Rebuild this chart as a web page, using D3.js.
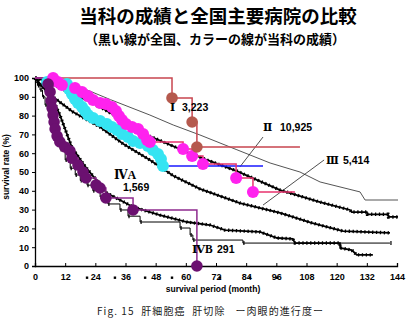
<!DOCTYPE html>
<html><head><meta charset="utf-8">
<script src="https://cdn.jsdelivr.net/npm/d3@7"></script>
<style>
html,body{margin:0;padding:0;background:#fff;}
svg{display:block;}
</style></head>
<body>
<script>
// ---------- data ----------
const xTicks = [0,12,24,36,48,60,72,84,96,108,120,132,144];
const yTicks = [0,10,20,30,40,50,60,70,80,90,100];
const axisDots = [20.7,31.8,43.8,54.5,73.6,85.5,96.3];

// national (black) curves: months / survival %
const natI_m = [0,6,17.9,30,45.7,55,65.6,80,93.5,105.4,113.4,129.3,131.3,144.4];
const natI_s = [100,99,95.2,88.5,80.3,75,69.7,62,54.8,50,44.7,39.4,35.1,35.1];

const natII_m = [0,4,12,24,35,45.7,60.5,68.4,80.3,97.5,113.4,125.3,126,132,132.2,140.4,140.6,144.4];
const natII_s = [100,98.5,93.5,86,77.5,69,60.6,56.4,50.5,40.4,34,29.8,28.7,28.7,27.5,27.5,26.1,26.1];

const natIII_m = [0,2,7.2,15,25.9,35,45.7,55,65.6,81.5,97.5,110,122.5,141.2];
const natIII_s = [100,96.3,89.9,82,73.9,65,56.4,48,41,33.5,28.2,23,18.6,17.6];

const natIVA_m = [0,2,6,10,14.7,19.9,28.6,39,49.7,60.5,69.6,75.6,89.5,96.3,102.6,103.4,121.3,121.4,126,128,134.4];
const natIVA_s = [100,97,92,80,63,53,38.8,31.4,27.1,23.4,21.8,19.1,18.1,14.9,14.4,12.2,12.2,9.6,8.5,5.9,5.9];

const natIVB_m = [0,1,2,3,4,6,8,10,12,14,16,18,20.7,23,25.9,29,33.8,37,41.8,57.7,61.7,62.8,82.7,141.2];
const natIVB_s = [100,96,93.6,90,85.6,77,69.7,62,56.4,52,48.4,45.5,43,40,36.7,33,29.8,26.5,23.4,20.2,16.5,13.8,12.2,12.2];

// local (colour) curves
const locI_m = [0,54.5,62.5,64.4,105.4];
const locI_s = [100,89.4,76.6,63.3,63.3];
const locI_dot_m = [54.5,62.5,64.4];
const locI_dot_s = [89.4,76.6,63.3];

const locII_m = [4.8,12.7,13.5,14.7,15.9,17.1,18.7,19.9,21.1,23.1,25.9,28.6,30.6,32.6,34.6,37,39,41.8,44.9,46.9,48.9,50.1,50.9];
const locII_s = [97.9,96.8,94.1,91.5,88.8,86.7,84.6,82.4,80.3,78.7,77.1,75.5,73.9,72.3,70.2,68.6,66.5,65.4,63.8,61.7,59.6,56.9,53.2];
const locII_end = 90.7;

const locIII_m = [7.2,9.1,10.7,15.9,18.7,21.1,23.1,25.9,28.2,30.6,32.2,33.4,34.6,36.2,38.6,41,43,44.6,45.7,58.9,62.5,66.8,80,86.7];
const locIII_s = [100,97.9,96.3,94.7,92.6,90.4,88.3,86.7,86.2,84.6,82.4,79.8,77.7,75.5,73.9,72.9,70.2,67,66,62.2,58.5,54.3,46.8,39.4];
const locIII_end = 103.4;

const locIV_m = [5.2,6,6.4,6.8,7.2,7.6,8,8.8,9.9,11.9,13.9,14.7,17.1,19.1,20.3,24.3,25.9,28.2,39,64.4];
const locIV_s = [96.8,92.6,87.8,84,80.3,76.6,72.9,69.1,66,63.3,61.2,57.4,53.7,50,46.8,43.1,41.5,36.2,29.8,0];

// ---------- chart ----------
const W = 408, H = 321;
const x = d3.scaleLinear().domain([0,144]).range([35,397]);
const y = d3.scaleLinear().domain([0,100]).range([266,78]);

const svg = d3.select("body").append("svg").attr("width",W).attr("height",H)
  .style("font-family","'Liberation Sans', Arial, sans-serif");

const zip = (m,s) => m.map((v,i)=>[v,s[i]]);
const lineLin = d3.line().x(d=>x(d[0])).y(d=>y(d[1]));
const lineStep = d3.line().x(d=>x(d[0])).y(d=>y(d[1])).curve(d3.curveStepAfter);

// titles
svg.append("text").attr("x",218).attr("y",23).attr("text-anchor","middle")
  .style("font-family","'Noto Sans CJK JP'").style("font-weight","bold").style("font-size","18.5px")
  .text("当科の成績と全国主要病院の比較");
svg.append("text").attr("x",215).attr("y",44).attr("text-anchor","middle")
  .style("font-family","'Noto Sans CJK JP'").style("font-weight","bold").style("font-size","13px")
  .text("（黒い線が全国、カラーの線が当科の成績）");

// axes
const gx = svg.append("g").attr("transform","translate(0,266)")
  .call(d3.axisBottom(x).tickValues(xTicks).tickSize(-3).tickPadding(8).tickFormat(d3.format("d")));
const gy = svg.append("g").attr("transform","translate(35,0)")
  .call(d3.axisLeft(y).tickValues(yTicks).tickSize(3).tickPadding(3).tickFormat(d3.format("d")));
[gx,gy].forEach(g=>{
  g.select(".domain").attr("stroke","#000").attr("stroke-width",1.3);
  g.selectAll(".tick line").attr("stroke","#000");
  g.selectAll("text").style("font-size","9px").style("font-weight","bold").attr("fill","#000")
   .style("font-family","'Liberation Sans', Arial, sans-serif");
});
svg.selectAll(".axdot").data(axisDots).enter().append("rect")
  .attr("x",d=>x(d)-1.2).attr("y",276.5).attr("width",2.4).attr("height",2.4).attr("fill","#000");

svg.append("text").attr("x",213).attr("y",292).attr("text-anchor","middle")
  .style("font-size","8.5px").style("font-weight","bold").text("survival period (month)");
svg.append("text").attr("transform","translate(9,167) rotate(-90)").attr("text-anchor","middle")
  .style("font-size","8.5px").style("font-weight","bold").text("survival rate (%)");

svg.append("text").attr("x",97).attr("y",315)
  .attr("textLength",226).attr("lengthAdjust","spacing")
  .style("font-family","'Noto Sans CJK JP'").style("font-size","10px").attr("fill","#222")
  .attr("xml:space","preserve")
  .text("Fig. 15  肝細胞癌  肝切除   ー肉眼的進行度ー");

// national curves
svg.append("path").datum(zip(natI_m,natI_s)).attr("d",lineLin)
  .attr("fill","none").attr("stroke","#555").attr("stroke-width",1);

function thick(m,s,curve){
  const gen = curve ? lineStep : lineLin;
  svg.append("path").datum(zip(m,s)).attr("d",gen)
    .attr("fill","none").attr("stroke","#000").attr("stroke-width",1.8);
  svg.append("path").datum(zip(m,s)).attr("d",gen)
    .attr("fill","none").attr("stroke","#000").attr("stroke-width",3.4)
    .attr("stroke-dasharray","1.3 2.6");
}
thick(natII_m,natII_s,false);
thick(natIII_m,natIII_s,false);
thick(natIVA_m,natIVA_s,false);

svg.append("path").datum(zip(natIVB_m,natIVB_s)).attr("d",lineStep)
  .attr("fill","none").attr("stroke","#000").attr("stroke-width",1);
svg.selectAll(".ivbtick").data(zip(natIVB_m,natIVB_s)).enter().append("line")
  .attr("x1",d=>x(d[0])+1).attr("x2",d=>x(d[0])+1)
  .attr("y1",d=>y(d[1])-2).attr("y2",d=>y(d[1])+2)
  .attr("stroke","#000").attr("stroke-width",1.2);

// leader lines
const leaders = [ {m1:90.7,s1:68.6,m2:81.5,s2:52.7}, {m1:115,s1:56.4,m2:90.7,s2:32.4} ];
svg.selectAll(".leader").data(leaders).enter().append("line")
  .attr("x1",d=>x(d.m1)).attr("y1",d=>y(d.s1)).attr("x2",d=>x(d.m2)).attr("y2",d=>y(d.s2))
  .attr("stroke","#222").attr("stroke-width",0.8);

// local lines
const locIIline = [[0,100]].concat(zip(locII_m,locII_s), [[locII_end, locII_s[locII_s.length-1]]]);
const locIIIline = [[0,100]].concat(zip(locIII_m,locIII_s), [[locIII_end, locIII_s[locIII_s.length-1]]]);
const locIVline = [[0,100]].concat(zip(locIV_m,locIV_s));

svg.append("path").datum(zip(locI_m,locI_s)).attr("d",lineStep)
  .attr("fill","none").attr("stroke","#c8454f").attr("stroke-width",1.5);
svg.append("path").datum(locIIline).attr("d",lineStep)
  .attr("fill","none").attr("stroke","#1a1aff").attr("stroke-width",1.6);
svg.append("path").datum(locIIIline).attr("d",lineStep)
  .attr("fill","none").attr("stroke","#e8336e").attr("stroke-width",1.5);
svg.append("path").datum(locIVline).attr("d",lineStep)
  .attr("fill","none").attr("stroke","#8e2a8e").attr("stroke-width",1.5);

// circles
function dots(m,s,color,r){
  svg.append("g").selectAll("circle").data(zip(m,s)).enter().append("circle")
    .attr("cx",d=>x(d[0])).attr("cy",d=>y(d[1])).attr("r",r).attr("fill",color);
}
dots(locII_m,locII_s,"#35e4f2",6);
dots(locIII_m,locIII_s,"#ff22ee",6);
dots(locIV_m,locIV_s,"#6b1070",5.8);
dots(locI_dot_m,locI_dot_s,"#b5594d",5.8);

// labels
const serif = "'Liberation Serif','DejaVu Serif',serif";
function lab(px,py,t,size,fam){
  svg.append("text").attr("x",px).attr("y",py).text(t)
    .style("font-size",size+"px").style("font-weight","bold").style("font-family",fam||"'Liberation Sans', Arial, sans-serif");
}
lab(170,111,"Ⅰ",11,serif); lab(182,111,"3,223",10.5);
lab(263,131,"Ⅱ",11,serif); lab(280,131,"10,925",10.5);
lab(326,164,"Ⅲ",10.5,serif); lab(343,164,"5,414",10.5);
lab(114,179,"ⅣA",12,serif); lab(123,191,"1,569",10.5);
lab(192,253,"ⅣB",11.5,serif); lab(217,253,"291",10.5);
</script>
</body></html>
